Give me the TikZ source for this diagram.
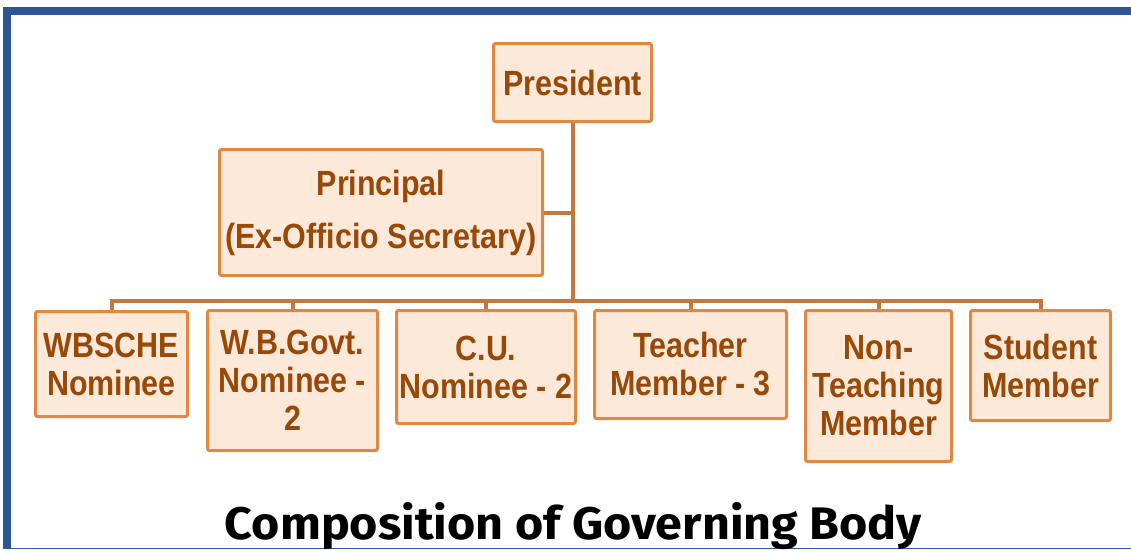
\documentclass[tikz,border=0pt]{standalone}
\usepackage{fontspec}
\setmainfont{Liberation Sans}
\newfontfamily\boxfont[FakeStretch=0.87]{Liberation Sans}
\newfontfamily\titlefont{Fira Sans}
\definecolor{bluec}{HTML}{2F5597}
\definecolor{boxfill}{HTML}{FDE9DA}
\definecolor{boxline}{HTML}{E0883F}
\definecolor{boxtext}{HTML}{984807}
\definecolor{connc}{HTML}{C6783C}
\tikzset{
  orgbox/.style={draw=boxline, fill=boxfill, line width=3pt, rounded corners=2pt,
    text=boxtext, align=center, inner sep=0pt,
    font=\boxfont\bfseries\fontsize{35}{38}\selectfont},
  conn/.style={draw=connc, line width=4pt}
}
\begin{document}
\begin{tikzpicture}[x=1pt,y=-1pt]
\useasboundingbox (0,0) rectangle (1131,550);
\fill[white] (0,0) rectangle (1131,550);
% frame
\fill[bluec] (3,7) rectangle (1131,15);
\fill[bluec] (3,7) rectangle (11,549);
\draw[bluec, line width=1.2pt] (11,548.8) -- (1131,548.8);
% boxes
\node[orgbox, minimum width=158pt, minimum height=78pt] (pres) at (572.5,82.5) {President};
\node[orgbox, minimum width=323pt, minimum height=126pt, font=\boxfont\bfseries\fontsize{35}{53}\selectfont] (prin) at (381,212.5) {Principal\\(Ex-Officio Secretary)};
\node[orgbox, minimum width=152pt, minimum height=105pt] (wbsche) at (111.5,364) {WBSCHE\\Nominee};
\node[orgbox, minimum width=170pt, minimum height=140pt] (wbgovt) at (292.5,380.5) {W.B.Govt.\\Nominee -\\2};
\node[orgbox, minimum width=179pt, minimum height=113pt] (cu) at (486,367) {C.U.\\Nominee - 2};
\node[orgbox, minimum width=192pt, minimum height=108pt] (teacher) at (690.5,364.5) {Teacher\\Member - 3};
\node[orgbox, minimum width=146pt, minimum height=151pt] (nonteach) at (878.5,386) {Non-\\Teaching\\Member};
\node[orgbox, minimum width=140pt, minimum height=110pt] (student) at (1040.5,365.5) {Student\\Member};
% connectors
\coordinate (j) at (572.5,301);
\draw[conn] (pres.south) -- (j);
\draw[conn] (prin.east) -- (prin.east -| j);
\foreach \c in {wbsche,wbgovt,cu,teacher,nonteach,student}
  \draw[conn] (j) -| (\c.north);
% title
\node[anchor=base, inner sep=0pt, font=\titlefont\bfseries] (title) at (573.5,539) {\resizebox{697pt}{37pt}{Composition of Governing Body}};
\end{tikzpicture}
\end{document}
